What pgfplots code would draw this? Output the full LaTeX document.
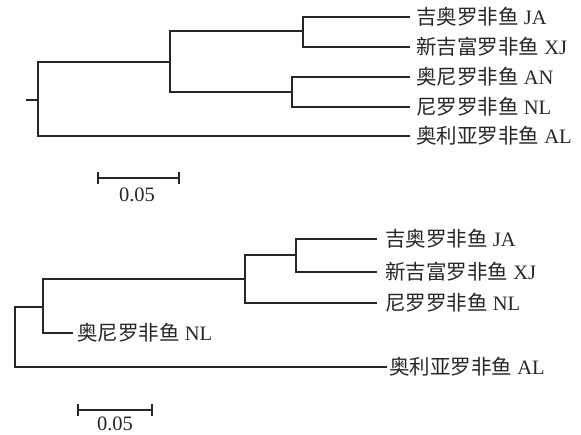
\documentclass[border=0pt]{standalone}
\usepackage{pgfplots}
\pgfplotsset{compat=1.18}
\usepackage{fontspec}
\setmainfont{Liberation Serif}
\newfontfamily\cjk{Noto Sans CJK SC}
\tikzset{
  lab/.style={anchor=base west, inner sep=0pt, font=\fontsize{20.5}{24}\selectfont, text=black!85, yshift=-7.6pt},
  scl/.style={anchor=center, inner sep=0pt, font=\fontsize{20.5}{24}\selectfont, text=black!85},
}
\pgfplotsset{tr/.style={draw=black!85, line width=1.8pt, mark=none, solid, line join=miter}}
\begin{document}
\begin{tikzpicture}
\begin{axis}[
  scale only axis, width=581pt, height=434pt,
  xmin=0, xmax=581, ymin=0, ymax=434, y dir=reverse,
  hide axis, clip=false,
]
\draw[draw=none] (axis cs:0,0) rectangle (axis cs:581,434);
% ---- top tree ----
\addplot[tr] coordinates {(26,100) (38,100)};
\addplot[tr] coordinates {(170,62) (38,62) (38,136) (410,136)};
\addplot[tr] coordinates {(303,31) (170,31) (170,92) (292,92)};
\addplot[tr] coordinates {(410,17) (303,17) (303,47) (410,47)};
\addplot[tr] coordinates {(410,77) (292,77) (292,107) (410,107)};
\addplot[tr] coordinates {(98,178) (179,178)};
\addplot[tr] coordinates {(98,172) (98,184)};
\addplot[tr] coordinates {(179,172) (179,184)};
\node[lab] at (axis cs:416,17) {{\cjk 吉奥罗非鱼} JA};
\node[lab] at (axis cs:416,47) {{\cjk 新吉富罗非鱼} XJ};
\node[lab] at (axis cs:416,77) {{\cjk 奥尼罗非鱼} AN};
\node[lab] at (axis cs:416,107) {{\cjk 尼罗罗非鱼} NL};
\node[lab] at (axis cs:416,136) {{\cjk 奥利亚罗非鱼} AL};
\node[scl] at (axis cs:137,195) {0.05};
% ---- bottom tree ----
\addplot[tr] coordinates {(43,307) (15,307) (15,367) (387,367)};
\addplot[tr] coordinates {(245,279) (43,279) (43,333) (73,333)};
\addplot[tr] coordinates {(296,255) (245,255) (245,303) (377,303)};
\addplot[tr] coordinates {(377,239) (296,239) (296,272) (377,272)};
\addplot[tr] coordinates {(78,410) (152,410)};
\addplot[tr] coordinates {(78,404) (78,416)};
\addplot[tr] coordinates {(152,404) (152,416)};
\node[lab] at (axis cs:385,239) {{\cjk 吉奥罗非鱼} JA};
\node[lab] at (axis cs:385,272) {{\cjk 新吉富罗非鱼} XJ};
\node[lab] at (axis cs:385,303) {{\cjk 尼罗罗非鱼} NL};
\node[lab] at (axis cs:77,333) {{\cjk 奥尼罗非鱼} NL};
\node[lab] at (axis cs:389,367) {{\cjk 奥利亚罗非鱼} AL};
\node[scl] at (axis cs:115,424) {0.05};
\end{axis}
\end{tikzpicture}
\end{document}
